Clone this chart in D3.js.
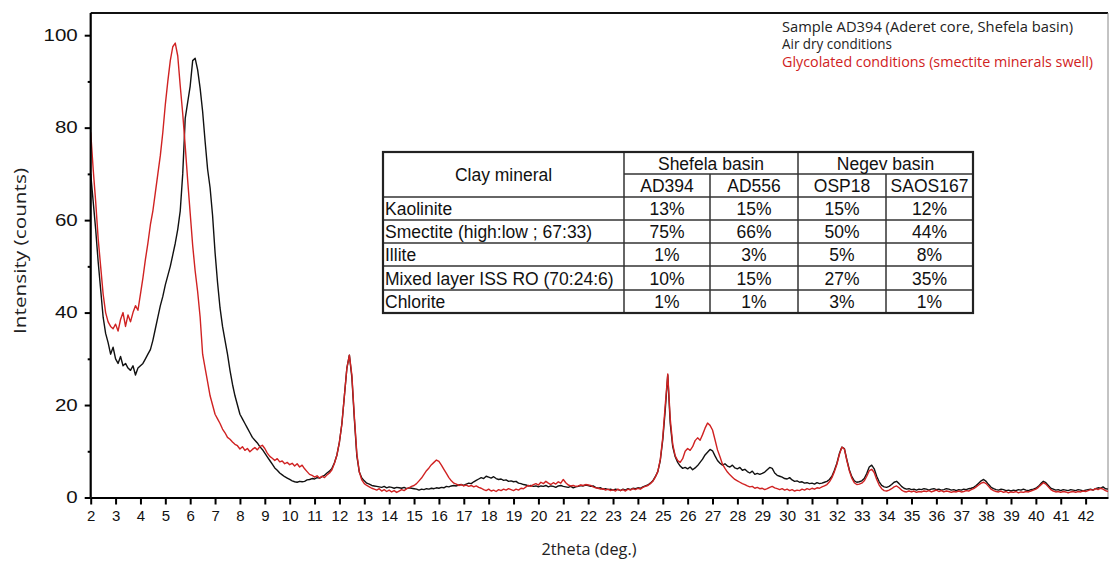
<!DOCTYPE html>
<html>
<head>
<meta charset="utf-8">
<script src="https://cdn.jsdelivr.net/npm/d3@7"></script>
<style>
  html, body { margin: 0; padding: 0; background: #fff; }
  svg { display: block; }
</style>
</head>
<body>
<svg id="chart" width="1110" height="561"></svg>
<script>
// XRD scan of sample AD394: intensity (counts) from 2theta = 2.0 to 42.9 deg, 0.1 deg per step
const scanStart = 2.0;
const scanStep = 0.1;

// Air dry conditions (one row per degree: x.0 ... x.9)
const airDry = [
  70, 64, 58, 51, 45, 39, 35.5, 33.5, 31, 32.5,
  30, 29, 30.5, 28.5, 29, 28, 27.5, 28.5, 26.5, 28,
  28.5, 29, 30, 31, 32, 34, 36.5, 39, 41.5, 43.5,
  46, 48, 50, 52.5, 55, 58, 62, 70, 82, 85.5,
  89, 94.5, 95, 92.5, 88.5, 83.5, 77, 71, 67, 61,
  53, 46.5, 41, 37, 34, 31, 27.5, 24.5, 22, 20,
  18, 17, 16, 15, 14, 13, 12.4, 11.8, 11, 10.4,
  9.6, 8.8, 8.0, 7.2, 6.4, 5.9, 5.3, 4.9, 4.5, 4.2,
  3.9, 3.6, 3.4, 3.3, 3.5, 3.4, 3.5, 3.8, 3.9, 4.1,
  4.0, 4.3, 4.2, 4.5, 4.8, 5.3, 5.7, 6.3, 7.5, 9.2,
  12, 16, 22, 28, 30.8, 26, 17, 9, 5.5, 4.2,
  3.6, 3.1, 2.9, 2.6, 2.5, 2.4, 2.3, 2.2, 2.4, 2.1,
  2.3, 2.2, 2.0, 2.2, 2.1, 2.0, 2.2, 1.9, 2.1, 2.0,
  1.9, 1.8, 1.6, 1.8, 1.7, 1.9, 1.8, 2.0, 1.9, 2.1,
  2.0, 2.2, 2.1, 2.4, 2.3, 2.5, 2.6, 2.5, 2.7, 2.8,
  2.6, 2.9, 3.1, 3.0, 3.4, 3.7, 4.0, 4.3, 4.1, 4.6,
  4.4, 4.2, 4.5, 4.1, 3.9, 4.0, 3.7, 3.8, 3.5, 3.6,
  3.4, 3.5, 3.1, 3.0, 2.8, 2.7, 2.5, 2.6, 2.4, 2.5,
  2.3, 2.5, 2.4, 2.6, 2.3, 2.5, 2.4, 2.2, 2.5, 2.6,
  2.4, 2.3, 2.2, 2.4, 2.1, 2.3, 2.4, 2.6, 2.5, 2.7,
  2.6, 2.4, 2.5, 2.2, 2.0, 2.1, 1.8, 1.9, 1.7, 1.8,
  1.6, 1.8, 1.7, 1.5, 1.8, 1.6, 1.9, 1.7, 2.0, 1.9,
  2.1, 2.0, 2.3, 2.5, 2.7, 3.1, 3.6, 4.5, 5.6, 8,
  12.5, 19, 26.5, 16, 11, 8.8, 7.6, 6.8, 6.3, 6.5,
  6.2, 6.6, 6.0, 6.4, 6.9, 7.6, 8.3, 9.2, 9.8, 10.4,
  10.1, 9.0, 8.0, 7.4, 7.0, 7.3, 6.8, 6.6, 7.0, 6.4,
  6.2, 6.5, 5.9, 6.1, 5.6, 5.3, 5.7, 5.0, 5.2, 5.0,
  5.2, 5.5, 6.0, 6.5, 6.3, 5.3, 4.8, 4.6, 4.4, 4.1,
  4.0, 4.3, 3.8, 3.5, 3.6, 3.3, 3.4, 3.1, 3.2, 3.0,
  3.1, 2.9, 3.2, 3.0, 3.1, 3.3, 3.5, 3.9, 4.6, 5.9,
  7.4, 9.5, 10.9, 10.6, 8.2, 6.0, 4.5, 3.6, 3.3, 3.4,
  3.6, 4.1, 5.2, 6.6, 7.0, 6.2, 4.6, 3.4, 2.6, 2.3,
  2.2, 2.4, 2.8, 3.3, 3.5, 3.0, 2.4, 2.0, 1.8, 1.9,
  1.7, 1.8, 1.6, 1.8, 1.7, 1.9, 1.8, 1.6, 1.8, 1.9,
  1.7, 1.8, 1.6, 1.7, 1.9, 1.8, 1.6, 1.7, 1.5, 1.7,
  1.6, 1.8, 1.7, 1.9, 2.0, 2.2, 2.6, 3.1, 3.6, 3.9,
  3.5, 2.8, 2.2, 1.9, 1.7, 1.6, 1.8, 1.7, 1.5, 1.6,
  1.4, 1.6, 1.5, 1.7, 1.6, 1.8, 1.6, 1.5, 1.7, 1.8,
  2.0, 2.4, 3.0, 3.5, 3.2, 2.6, 2.0, 1.8, 1.6, 1.7,
  1.5, 1.7, 1.6, 1.5, 1.7, 1.6, 1.5, 1.7, 1.6, 1.4,
  1.6, 1.7, 1.8, 1.6, 1.9, 2.1, 2.0, 2.3, 1.9, 1.8
];

// Glycolated conditions (smectite minerals swell)
const glycolated = [
  79, 71, 64, 56, 50, 44, 40, 38, 37, 36.5,
  37.5, 36, 38.5, 40, 37, 39.5, 38, 40, 41.5, 40.5,
  44, 47.5, 51.5, 55, 59, 62, 66, 70, 74, 79,
  85, 90, 94.5, 97.5, 98.3, 95.5, 89, 83, 76, 68.5,
  61.5, 54.5, 49, 44.5, 39, 31, 28, 25, 22, 20,
  18, 17, 16, 14.8, 14, 13, 12.6, 12, 11.5, 11.2,
  10.5, 11, 10.2, 10.6, 9.9, 10.4, 10.8, 10.3, 11.0, 11.3,
  10.6, 9.6, 8.9, 8.5, 8.0, 8.4, 7.7, 7.9, 7.3, 7.6,
  7.1, 7.4, 6.8, 7.3, 6.6, 7.0, 6.2, 5.6, 5.0, 4.8,
  4.4, 4.7, 4.2, 4.6, 4.3, 4.9, 5.3, 6.0, 7.4, 9.2,
  12, 16, 22, 28, 30.8, 26.5, 17.5, 9.5, 5.5, 3.8,
  3.0, 2.6, 2.3, 2.0, 1.8, 1.6, 1.9, 1.4, 1.7, 1.3,
  1.6, 1.2, 1.5, 1.1, 1.4, 1.7, 1.5, 1.9, 2.1, 2.4,
  2.6, 3.0, 3.6, 4.2, 5.0, 5.8, 6.4, 7.1, 7.6, 8.1,
  7.8, 7.0, 6.1, 5.2, 4.3, 3.6, 3.1, 2.9, 2.6, 2.8,
  2.5, 2.7, 2.4, 2.6, 2.3, 2.5, 2.2, 2.0, 1.7, 1.5,
  1.8, 1.4, 1.6, 1.3, 1.7, 1.5, 1.8, 1.6, 1.9, 1.7,
  1.5, 1.8, 1.6, 2.0, 1.9, 2.3, 2.6, 2.4, 2.8, 3.0,
  2.7, 3.3, 3.0, 3.5, 3.1, 2.8, 3.2, 2.9, 3.4, 3.1,
  3.9, 3.2, 2.7, 2.5, 2.6, 2.4, 2.5, 2.7, 2.6, 2.8,
  2.7, 2.6, 2.3, 2.1, 2.0, 1.8, 1.9, 1.6, 1.8, 1.5,
  1.7, 1.4, 1.8, 1.5, 1.7, 1.4, 1.8, 1.6, 1.9, 1.7,
  2.0, 1.8, 2.2, 2.4, 2.6, 3.0, 3.5, 4.4, 5.6, 8.2,
  13, 20, 26.7, 17, 11.5, 9.0, 8.0, 7.6, 8.4, 10.0,
  10.6, 10.2, 11.0, 12.3, 12.9, 12.4, 13.6, 15.0, 16.1, 15.6,
  14.6, 12.5, 10.3, 8.8, 7.2, 6.3, 5.5, 4.9, 4.4, 3.9,
  3.6, 3.3, 3.0, 2.8, 2.5, 2.3, 2.4, 2.0, 2.2, 1.9,
  2.0, 1.7, 1.9, 2.2, 2.4, 2.1, 1.9, 1.7, 1.9, 1.6,
  1.8, 1.5, 1.7, 1.4, 1.6, 1.5, 1.8, 1.6, 1.9, 1.7,
  2.0, 1.8, 2.1, 2.0, 2.3, 2.5, 2.8, 3.4, 4.3, 5.6,
  7.2, 9.3, 10.9, 10.5, 8.0, 5.8, 4.2, 3.2, 2.8, 2.9,
  3.1, 3.6, 4.6, 5.8, 6.1, 5.4, 3.9, 2.7, 1.9, 1.5,
  1.4, 1.6, 1.9, 2.3, 2.5, 2.1, 1.6, 1.3, 1.2, 1.4,
  1.2, 1.4, 1.1, 1.3, 1.2, 1.4, 1.3, 1.5, 1.2, 1.4,
  1.6, 1.3, 1.5, 1.2, 1.4, 1.3, 1.1, 1.3, 1.2, 1.4,
  1.2, 1.3, 1.5, 1.4, 1.7, 1.9, 2.3, 2.7, 3.1, 3.3,
  3.0, 2.4, 1.8, 1.5, 1.3, 1.2, 1.4, 1.1, 1.3, 1.0,
  1.2, 1.1, 1.3, 1.0, 1.2, 1.1, 1.3, 1.2, 1.4, 1.6,
  1.8, 2.2, 2.7, 3.2, 2.9, 2.3, 1.7, 1.4, 1.2, 1.3,
  1.1, 1.3, 1.2, 1.0, 1.2, 1.3, 1.1, 1.3, 1.2, 1.4,
  1.3, 1.5, 1.7, 1.6, 1.9, 1.7, 2.0, 1.8, 1.5, 1.3
];

// Axis ticks
const xTicks = [2,3,4,5,6,7,8,9,10,11,12,13,14,15,16,17,18,19,20,21,22,23,24,25,26,27,28,29,30,31,32,33,34,35,36,37,38,39,40,41,42];
const yMajorTicks = [0, 20, 40, 60, 80, 100];
const yMinorTicks = [10, 30, 50, 70, 90];

// Legend lines
const legendLines = [
  "Sample AD394 (Aderet core, Shefela basin)",
  "Air dry conditions",
  "Glycolated conditions (smectite minerals swell)"
];

// Clay mineral composition table (%)
const basins = ["Shefela basin", "Negev basin"];
const samples = ["AD394", "AD556", "OSP18", "SAOS167"];
const minerals = ["Kaolinite", "Smectite (high:low ; 67:33)", "Illite", "Mixed layer ISS RO (70:24:6)", "Chlorite"];
const pctAD394 = [13, 75, 1, 10, 1];
const pctAD556 = [15, 66, 3, 15, 1];
const pctOSP18 = [15, 50, 5, 27, 3];
const pctSAOS167 = [12, 44, 8, 35, 1];

// ---------------------------------------------------------------
const svg = d3.select("#chart");
const plot = { left: 90.7, right: 1108, top: 13, bottom: 497.5 };

const x = d3.scaleLinear().domain([2, 42.9]).range([plot.left, plot.right]);
const y = d3.scaleLinear().domain([0, 104.8]).range([plot.bottom, plot.top]);

const BLACK = "#111";
const RED = "#d02222";
const SANS = "'Open Sans', sans-serif";
const ARIAL = "'Liberation Sans', Arial, sans-serif";

// frame: top and right borders
svg.append("line").attr("x1", plot.left).attr("x2", plot.right)
  .attr("y1", plot.top).attr("y2", plot.top)
  .attr("stroke", "#111").attr("stroke-width", 2);
svg.append("line").attr("x1", plot.right).attr("x2", plot.right)
  .attr("y1", plot.top).attr("y2", plot.bottom)
  .attr("stroke", "#888").attr("stroke-width", 1);

// curves
const toPoints = arr => arr.map((v, i) => [scanStart + i * scanStep, v]);
const line = d3.line().x(d => x(d[0])).y(d => y(d[1]));

const curves = svg.append("g");
curves.append("path").datum(toPoints(airDry))
  .attr("d", line).attr("fill", "none")
  .attr("stroke", BLACK).attr("stroke-width", 1.4).attr("stroke-linejoin", "round");
curves.append("path").datum(toPoints(glycolated))
  .attr("d", line).attr("fill", "none")
  .attr("stroke", RED).attr("stroke-width", 1.4).attr("stroke-linejoin", "round");

// x axis
const xAxis = svg.append("g")
  .attr("transform", `translate(0,${plot.bottom})`)
  .call(d3.axisBottom(x).tickValues(xTicks).tickFormat(d3.format("d"))
    .tickSize(7).tickSizeOuter(0).tickPadding(6));
xAxis.select(".domain").attr("stroke", "#000").attr("stroke-width", 2.2);
xAxis.selectAll(".tick line").attr("stroke", "#000").attr("stroke-width", 2);
xAxis.selectAll(".tick text")
  .attr("font-family", ARIAL).attr("font-size", 15).attr("fill", "#111");

// y axis (major with labels, minor without)
const yAxis = svg.append("g")
  .attr("transform", `translate(${plot.left},0)`)
  .call(d3.axisLeft(y).tickValues(yMajorTicks).tickFormat(d3.format("d"))
    .tickSize(6).tickSizeOuter(0).tickPadding(7));
yAxis.select(".domain").attr("stroke", "#000").attr("stroke-width", 2.2)
  .attr("d", `M0,${plot.bottom}V${plot.top}`);
yAxis.selectAll(".tick line").attr("stroke", "#000").attr("stroke-width", 2);
yAxis.selectAll(".tick text")
  .attr("font-family", ARIAL).attr("font-size", 16.5).attr("fill", "#111")
  .attr("textLength", d => String(d).length * 11.4)
  .attr("lengthAdjust", "spacingAndGlyphs");

const yMinor = svg.append("g")
  .attr("transform", `translate(${plot.left},0)`)
  .call(d3.axisLeft(y).tickValues(yMinorTicks).tickFormat("").tickSize(3).tickSizeOuter(0));
yMinor.select(".domain").remove();
yMinor.selectAll(".tick line").attr("stroke", "#000").attr("stroke-width", 2);

// axis titles
svg.append("text")
  .attr("x", 589).attr("y", 555)
  .attr("text-anchor", "middle")
  .attr("font-family", SANS).attr("font-size", 15.5).attr("fill", "#222")
  .attr("textLength", 95).attr("lengthAdjust", "spacingAndGlyphs")
  .text("2theta (deg.)");
svg.append("text")
  .attr("transform", `translate(26,251) rotate(-90)`)
  .attr("text-anchor", "middle")
  .attr("font-family", SANS).attr("font-size", 17).attr("fill", "#222")
  .attr("textLength", 166).attr("lengthAdjust", "spacingAndGlyphs")
  .text("Intensity (counts)");

// legend
const legendWidths = [291, 110, 311];
svg.append("g").selectAll("text").data(legendLines).join("text")
  .attr("x", 782).attr("y", (d, i) => 32 + i * 17.3)
  .attr("font-family", SANS).attr("font-size", 14.2)
  .attr("textLength", (d, i) => legendWidths[i]).attr("lengthAdjust", "spacingAndGlyphs")
  .attr("fill", (d, i) => i === 2 ? RED : "#222")
  .text(d => d);

// table
const tbl = svg.append("g");
const colX = [383, 624, 710, 798, 886, 973];
const rowY = [152, 174, 197, 220, 243, 266, 290, 313];
const samplePct = [pctAD394, pctAD556, pctOSP18, pctSAOS167];
const stroke = "#333";

tbl.append("rect")
  .attr("x", colX[0]).attr("y", rowY[0])
  .attr("width", colX[5] - colX[0]).attr("height", rowY[7] - rowY[0])
  .attr("fill", "#fff");

// horizontal rules
tbl.append("line").attr("x1", colX[1]).attr("x2", colX[5])
  .attr("y1", rowY[1]).attr("y2", rowY[1]).attr("stroke", stroke).attr("stroke-width", 1.5);
for (let r = 2; r < 7; r++) {
  tbl.append("line").attr("x1", colX[0]).attr("x2", colX[5])
    .attr("y1", rowY[r]).attr("y2", rowY[r]).attr("stroke", stroke).attr("stroke-width", 1.5);
}
// vertical rules
[1, 3].forEach(c => {
  tbl.append("line").attr("x1", colX[c]).attr("x2", colX[c])
    .attr("y1", rowY[0]).attr("y2", rowY[7]).attr("stroke", stroke).attr("stroke-width", 1.5);
});
[2, 4].forEach(c => {
  tbl.append("line").attr("x1", colX[c]).attr("x2", colX[c])
    .attr("y1", rowY[1]).attr("y2", rowY[7]).attr("stroke", stroke).attr("stroke-width", 1.5);
});
// outer border
tbl.append("rect")
  .attr("x", colX[0]).attr("y", rowY[0])
  .attr("width", colX[5] - colX[0]).attr("height", rowY[7] - rowY[0])
  .attr("fill", "none").attr("stroke", "#222").attr("stroke-width", 2.2);

const cellText = (tx, ty, s, anchor) => tbl.append("text")
  .attr("x", tx).attr("y", ty).attr("text-anchor", anchor || "middle")
  .attr("dominant-baseline", "central")
  .attr("font-family", ARIAL).attr("font-size", 17.5).attr("fill", "#111")
  .text(s);

cellText((colX[0] + colX[1]) / 2, (rowY[0] + rowY[2]) / 2, "Clay mineral");
basins.forEach((b, i) => {
  cellText((colX[1 + 2 * i] + colX[3 + 2 * i]) / 2, (rowY[0] + rowY[1]) / 2 + 0.5, b);
});
samples.forEach((s, i) => {
  cellText((colX[1 + i] + colX[2 + i]) / 2, (rowY[1] + rowY[2]) / 2 + 0.5, s);
});
minerals.forEach((m, r) => {
  const cy = (rowY[2 + r] + rowY[3 + r]) / 2 + 0.5;
  cellText(colX[0] + 2, cy, m, "start");
  samplePct.forEach((arr, c) => {
    cellText((colX[1 + c] + colX[2 + c]) / 2, cy, arr[r] + "%");
  });
});
</script>
</body>
</html>
